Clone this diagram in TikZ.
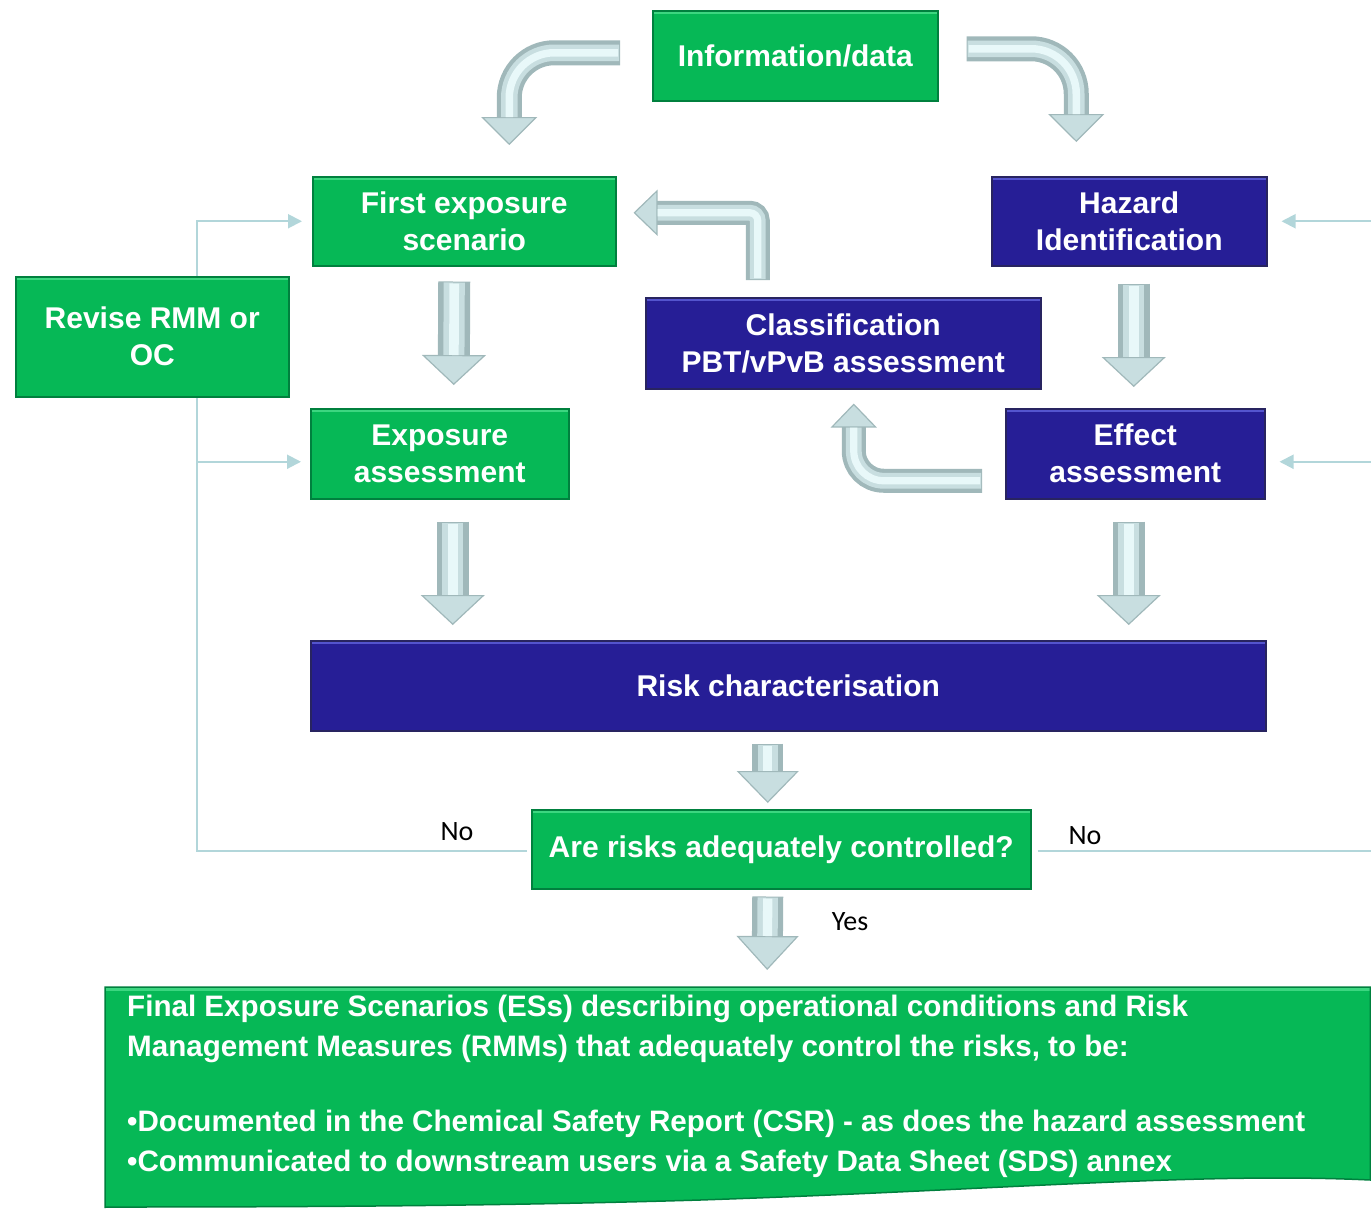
\documentclass[tikz,border=0pt]{standalone}
\usepackage{fontspec}
\setmainfont{Liberation Sans}
\newfontfamily\lblfont{Carlito}
\usetikzlibrary{arrows.meta,backgrounds,calc}
\definecolor{grn}{RGB}{6,184,86}
\definecolor{grnD}{RGB}{0,128,62}
\definecolor{grnL}{RGB}{60,214,128}
\definecolor{blu}{RGB}{38,30,150}
\definecolor{bluD}{RGB}{40,36,96}
\definecolor{bluL}{RGB}{84,84,206}
\definecolor{connC}{RGB}{178,214,218}
\definecolor{arrA}{RGB}{160,184,186}
\definecolor{arrB}{RGB}{200,222,224}
\definecolor{arrC}{RGB}{232,248,249}
% #1 shaft width, #2 head width, #3 head length, #4 path
\newcommand\tubearrow[4]{%
  \pgfmathsetmacro\tubeb{0.66*#1}%
  \pgfmathsetmacro\tubec{0.3*#1}%
  \draw[line width=#1pt, draw=arrA, fill=none, -{Triangle[width=#2pt,length=#3pt,line width=1.2pt,fill=arrB]}] #4;
  \draw[line width=\tubeb pt, draw=arrB, shorten >=#3pt, shorten <=1pt] #4;
  \draw[line width=\tubec pt, draw=arrC, shorten >=#3pt, shorten <=2pt] #4;
}
\begin{document}
\begin{tikzpicture}[x=1pt,y=-1pt,
  box/.style={anchor=north west, inner sep=0pt, align=center, text=white,
    font=\fontsize{30}{37}\selectfont\bfseries},
  gbox/.style={box, fill=grn, draw=grnD, line width=1.5pt,
    path picture={\fill[grnL] (path picture bounding box.north west) rectangle ([yshift=-3.5pt]path picture bounding box.north east);}},
  bbox/.style={box, fill=blu, draw=bluD, line width=1.5pt,
    path picture={\fill[bluL] (path picture bounding box.north west) rectangle ([yshift=-3.5pt]path picture bounding box.north east);}},
  conn/.style={draw=connC, line width=2pt, -{Triangle[length=14pt,width=14pt]}},
  lbl/.style={font=\lblfont\fontsize{28}{30}\selectfont, text=black, inner sep=0pt}
]
\useasboundingbox (0,0) rectangle (1371,1208);

% boxes
\node[gbox, minimum width=285pt, minimum height=90pt] (info) at (652,10) {Information/data};
\node[gbox, minimum width=303pt, minimum height=89pt] (first) at (312,176) {First exposure\\scenario};
\node[bbox, minimum width=275pt, minimum height=89pt] (hazard) at (991,176) {Hazard\\Identification};
\node[gbox, minimum width=273pt, minimum height=120pt] (revise) at (15,276) {Revise RMM or\\OC};
\node[bbox, minimum width=395pt, minimum height=91pt] (classif) at (645,297) {Classification\\PBT/vPvB assessment};
\node[gbox, minimum width=258pt, minimum height=90pt] (expo) at (310,408) {Exposure\\assessment};
\node[bbox, minimum width=259pt, minimum height=90pt] (effect) at (1005,408) {Effect\\assessment};
\node[bbox, minimum width=955pt, minimum height=90pt] (risk) at (310,640) {Risk characterisation};
\node[gbox, minimum width=499pt, minimum height=79pt] (are) at (531,809) {Are risks adequately controlled?};

% final document shape
\node[anchor=north west, inner sep=0pt, minimum width=1265pt, minimum height=200pt] (finalbox) at (105,987) {};
\fill[grn] (finalbox.north west) -- (finalbox.north east) -- ($(finalbox.north east)+(0,193)$)
  .. controls (1200,1172) and (1000,1190) .. (700,1200)
  .. controls (500,1206) and (300,1207) .. (105,1207) -- cycle;
\fill[grnL] (finalbox.north west) rectangle ($(finalbox.north east)+(0,3.5)$);
\draw[grnD, line width=1.5pt] (105,1208) -- (finalbox.north west) -- (finalbox.north east) -- ($(finalbox.north east)+(0,193)$)
  .. controls (1200,1172) and (1000,1190) .. (700,1200)
  .. controls (500,1206) and (300,1207) .. (105,1207);
\node[anchor=north west, inner sep=0pt, align=left, text=white,
  font=\fontsize{29.6}{40}\selectfont\bfseries] (final) at (127,995)
  {Final Exposure Scenarios (ESs) describing operational conditions and Risk\\
   Management Measures (RMMs) that adequately control the risks, to be:\\[35pt]
   •Documented in the Chemical Safety Report (CSR) - as does the hazard assessment\\
   •Communicated to downstream users via a Safety Data Sheet (SDS) annex};

% thin feedback connectors
\begin{scope}[on background layer]
\coordinate (lbus) at (197,0);
\coordinate (rbus) at (1373,0);
\draw[conn] ($(are.west)+(-4,2)$) -| (lbus |- first.west) -- ($(first.west)+(-10,0)$);
\draw[conn] (lbus |- {$(expo.west)+(0,8)$}) -- ($(expo.west)+(-9,8)$);
\draw[conn] ($(are.east)+(6,2)$) -| (rbus |- hazard.east) -- ($(hazard.east)+(14,0)$);
\draw[conn] (rbus |- {$(effect.east)+(0,8)$}) -- ($(effect.east)+(14,8)$);
\end{scope}

% labels
\node[lbl] (no1) at (457,832) {No};
\node[lbl] (no2) at (1085,836) {No};
\node[lbl] (yes) at (850,922) {Yes};

% block arrows
\coordinate (t1) at ($(first.north)+(45,-31)$);
\tubearrow{25}{56}{28}{($(info.west)+(-32,-3)$) [rounded corners=45pt] -| (t1)}
\coordinate (t2) at ($(hazard.north)+(-53,-34)$);
\tubearrow{25}{56}{28}{($(info.east)+(28,-7)$) [rounded corners=45pt] -| (t2)}
\tubearrow{32}{64}{30}{($(first.south)+(-10,15)$) -- ($(expo.north)+(14,-23)$)}
\tubearrow{32}{64}{30}{($(expo.south)+(13,22)$) -- ($(expo.south |- risk.north)+(13,-15)$)}
\tubearrow{32}{64}{30}{($(hazard.south)+(4.5,17)$) -- ($(effect.north)+(-1.5,-21)$)}
\tubearrow{32}{64}{30}{($(effect.south)+(-6.5,22)$) -- ($(effect.south |- risk.north)+(-6.5,-15)$)}
\tubearrow{31}{62}{32}{($(risk.south)+(-20.5,12)$) -- ($(are.north)+(-13.5,-6)$)}
\tubearrow{31}{62}{34}{($(are.south)+(-13.5,7)$) -- ($(finalbox.north)+(29.5,-17)$)}
\coordinate (t3) at ($(first.east)+(17,-8.5)$);
\tubearrow{24}{46}{24}{($(classif.north)+(-85.5,-17)$) [rounded corners=8pt] |- (t3)}
\coordinate (t4) at ($(classif.south)+(10.5,14)$);
\tubearrow{24}{46}{24}{($(effect.west)+(-23,27)$) [rounded corners=30pt] -| (t4)}
\end{tikzpicture}
\end{document}
